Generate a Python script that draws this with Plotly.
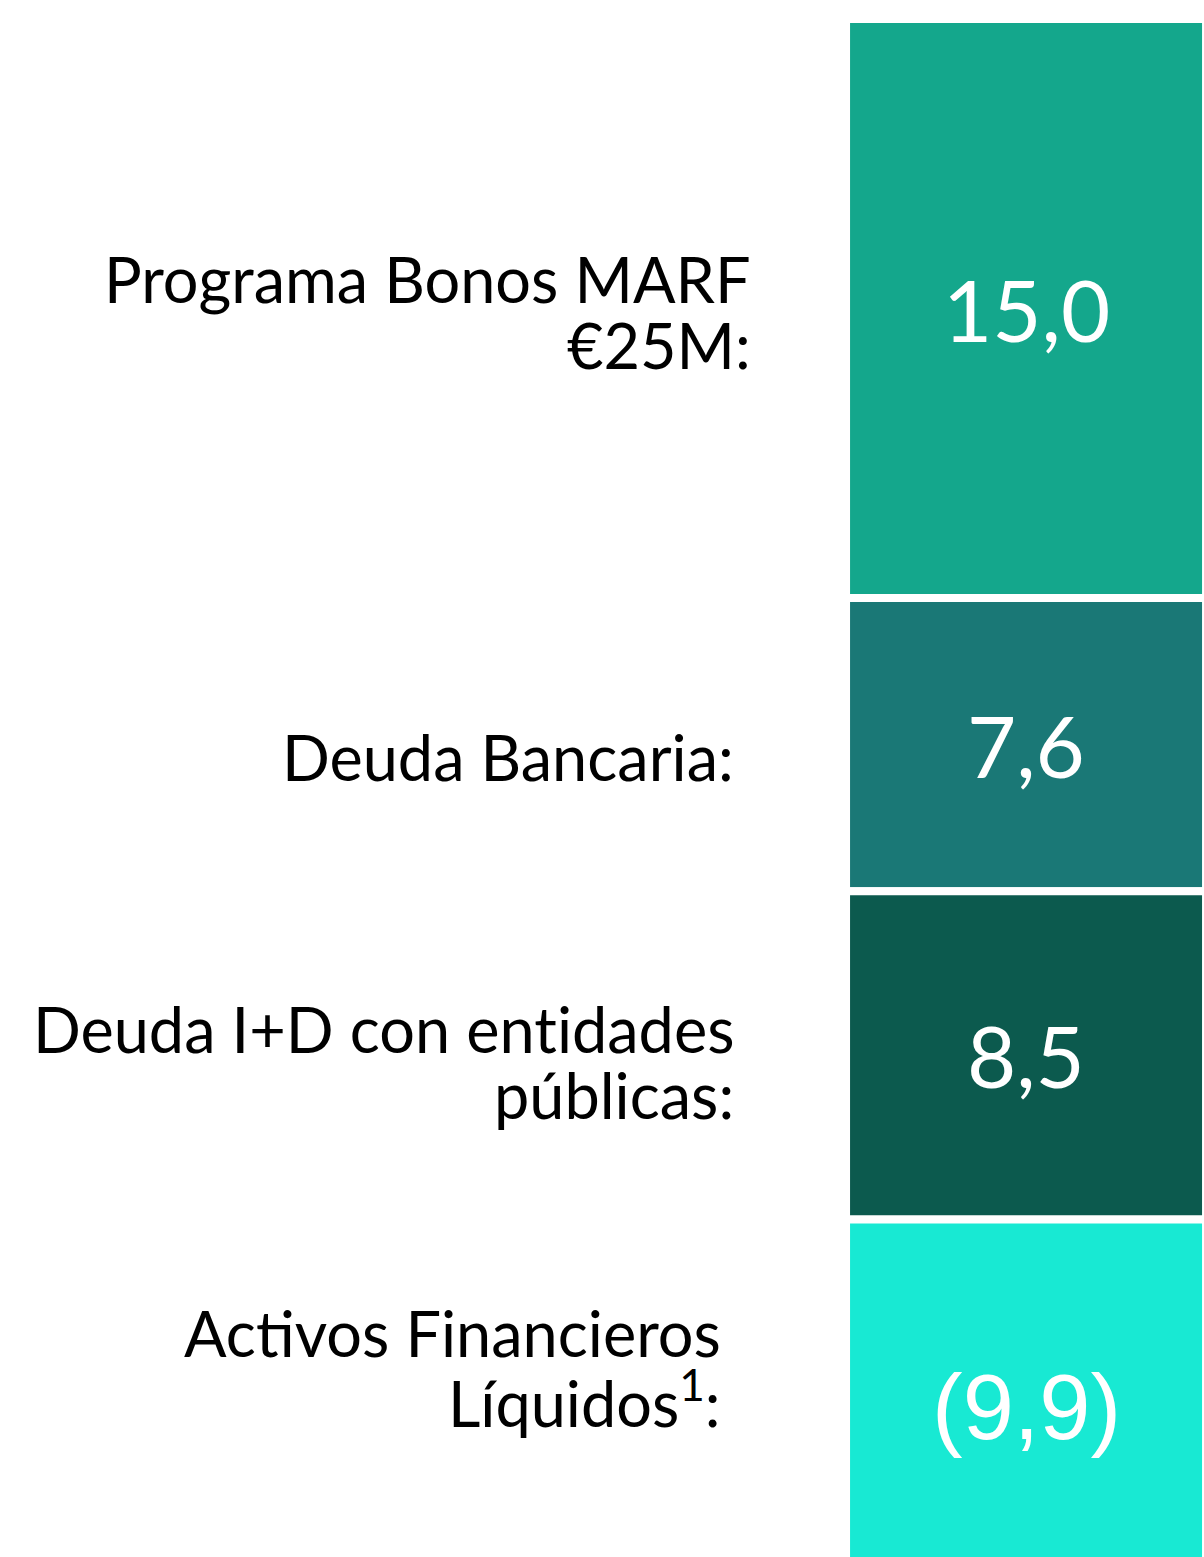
import plotly.graph_objects as go

# Data
categories = ["Programa Bonos MARF<br>€25M:", "Deuda Bancaria:",
              "Deuda I+D con ent\u200cidades<br>públicas:", "Activos Financieros<br>Líquidos<sup>1</sup>:"]
values = [15.0, 7.6, 8.5, -9.9]
colors = ["#14A78C", "#1A7876", "#0C5A4E", "#18E9D3"]

def fmt(v):
    s = f"{abs(v):.1f}".replace(".", ",")
    return f"({s})" if v < 0 else s

FONT = "Lato, Carlito, Open Sans, sans-serif"
FONT_NEG = "'Liberation Sans', Arial, sans-serif"
W, H = 1204, 1557
k = 38.6          # px per unit
top_px = 19

fig = go.Figure()
base = 0.0
bases = []
for cat, v, c in zip(categories, values, colors):
    h = abs(v)
    bases.append(base)
    fig.add_trace(go.Bar(
        x=[0.8522], y=[h], base=[base], width=[0.299],
        marker=dict(color=c, line=dict(color="white", width=8)),
        showlegend=False, hoverinfo="skip",
    ))
    base += h

annotations = []
# value labels
for i, v in enumerate(values):
    mid = bases[i] + abs(v) / 2
    neg = v < 0
    annotations.append(dict(
        x=0.8522, xref="paper", xanchor="center",
        y=mid, yref="y", yanchor="middle",
        yshift=4 if neg else 0,
        text=fmt(v), showarrow=False,
        font=dict(family=FONT_NEG if neg else FONT, size=92 if neg else 85, color="white"),
    ))

# category labels, one annotation per line
label_right = [0.6256, 0.6116, 0.6116, 0.6006]
label_shift = [-3, -12, -6, 45]
for i, cat in enumerate(categories):
    lines = cat.split("<br>")
    mid = bases[i] + abs(values[i]) / 2
    n = len(lines)
    for j, ln in enumerate(lines):
        off = (j - (n - 1) / 2) * 66
        annotations.append(dict(
            x=label_right[i], xref="paper", xanchor="right",
            y=mid, yref="y", yanchor="middle",
            yshift=-(off) + label_shift[i],
            text=ln, showarrow=False,
            font=dict(family=FONT, size=63, color="black"),
        ))

fig.update_layout(
    width=W, height=H,
    margin=dict(l=0, r=0, t=0, b=0),
    paper_bgcolor="white", plot_bgcolor="white",
    barmode="overlay",
    xaxis=dict(range=[0, 1], visible=False, fixedrange=True),
    yaxis=dict(range=[(H - top_px) / k, -top_px / k], visible=False, fixedrange=True),
    annotations=annotations,
)

fig.write_html("out.html", config={"displayModeBar": False},
               post_script="document.body.style.margin='0';document.body.style.overflow='hidden';")
